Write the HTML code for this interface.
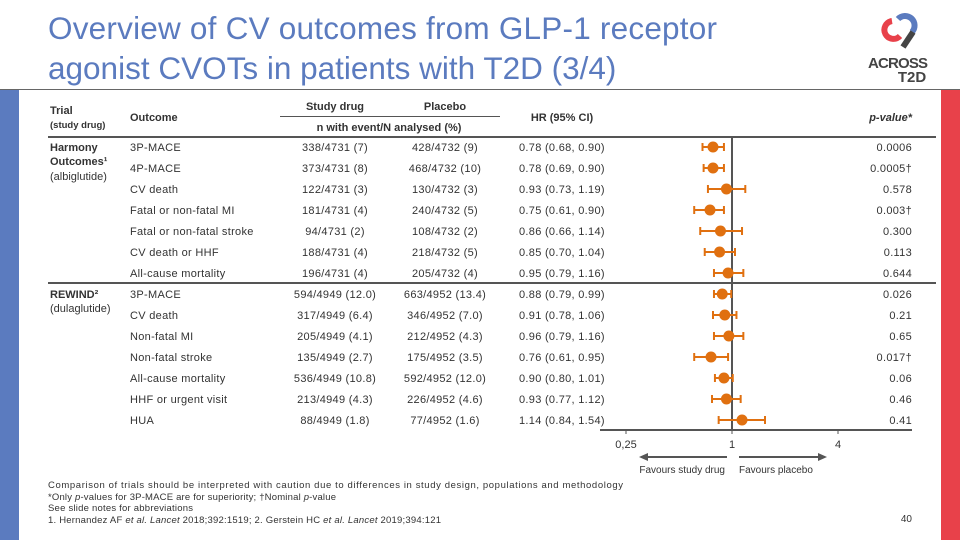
<!DOCTYPE html>
<html><head><meta charset="utf-8"><style>
body{margin:0;background:#fff;}
svg{display:block;font-family:"Liberation Sans",sans-serif;}
#rows text{letter-spacing:0.3px;}
</style></head><body>
<svg id="s" width="960" height="540" viewBox="0 0 960 540">
<text x="48" y="39" font-size="31.5" fill="#5b7bbf" textLength="669">Overview of CV outcomes from GLP-1 receptor</text>
<text x="48" y="79" font-size="31.5" fill="#5b7bbf">agonist CVOTs in patients with T2D (3/4)</text>
<g>
<path d="M892 21 a9 9 0 1 0 8 15" fill="none" stroke="#e8414a" stroke-width="6"/>
<path d="M898 19 a9 9 0 1 1 14 13" fill="none" stroke="#5b7bbf" stroke-width="6"/>
<path d="M913 32 L903 47" stroke="#444" stroke-width="6"/>
<text x="898" y="68" font-size="15" font-weight="bold" fill="#444" text-anchor="middle" textLength="60">ACROSS</text>
<text x="912" y="82" font-size="15" font-weight="bold" fill="#444" text-anchor="middle">T2D</text>
</g>
<line x1="0" y1="89.5" x2="960" y2="89.5" stroke="#666" stroke-width="1"/>
<rect x="0" y="90" width="19" height="450" fill="#5b7bbf"/>
<rect x="941" y="90" width="19" height="450" fill="#e8414a"/>
<g font-size="11" fill="#333">
<text x="50" y="114" font-weight="bold">Trial</text>
<text x="50" y="128" font-size="9.5" font-weight="bold">(study drug)</text>
<text x="130" y="121" font-weight="bold">Outcome</text>
<text x="335" y="110" text-anchor="middle" font-weight="bold">Study drug</text>
<text x="445" y="110" text-anchor="middle" font-weight="bold">Placebo</text>
<line x1="280" y1="116.5" x2="500" y2="116.5" stroke="#555"/>
<text x="389" y="131" text-anchor="middle" font-weight="bold">n with event/N analysed (%)</text>
<text x="562" y="121" text-anchor="middle" font-weight="bold">HR (95% CI)</text>
<text x="912" y="121" text-anchor="end" font-weight="bold" font-style="italic">p-value*</text>
<text x="50" y="151" font-weight="bold">Harmony</text>
<text x="50" y="165" font-weight="bold">Outcomes¹</text>
<text x="50" y="180">(albiglutide)</text>
<text x="50" y="298" font-weight="bold">REWIND²</text>
<text x="50" y="312">(dulaglutide)</text>
</g>
<line x1="48" y1="137" x2="936" y2="137" stroke="#555" stroke-width="2"/>
<line x1="48" y1="283" x2="936" y2="283" stroke="#555" stroke-width="2"/>
<g id="rows"></g>
<g id="plot"></g>
<g font-size="9.5" fill="#333">
<text x="48" y="488" textLength="575">Comparison of trials should be interpreted with caution due to differences in study design, populations and methodology</text>
<text x="48" y="500" textLength="288">*Only <tspan font-style="italic">p</tspan>-values for 3P-MACE are for superiority; †Nominal <tspan font-style="italic">p</tspan>-value</text>
<text x="48" y="511" textLength="145">See slide notes for abbreviations</text>
<text x="48" y="523" textLength="393">1. Hernandez AF <tspan font-style="italic">et al. Lancet</tspan> 2018;392:1519; 2. Gerstein HC <tspan font-style="italic">et al. Lancet</tspan> 2019;394:121</text>
<text x="912" y="522" font-size="10" text-anchor="end">40</text>
</g>
</svg>
<script>
const outcomes=["3P-MACE","4P-MACE","CV death","Fatal or non-fatal MI","Fatal or non-fatal stroke","CV death or HHF","All-cause mortality","3P-MACE","CV death","Non-fatal MI","Non-fatal stroke","All-cause mortality","HHF or urgent visit","HUA"];
const drugN=["338/4731 (7)","373/4731 (8)","122/4731 (3)","181/4731 (4)","94/4731 (2)","188/4731 (4)","196/4731 (4)","594/4949 (12.0)","317/4949 (6.4)","205/4949 (4.1)","135/4949 (2.7)","536/4949 (10.8)","213/4949 (4.3)","88/4949 (1.8)"];
const placeboN=["428/4732 (9)","468/4732 (10)","130/4732 (3)","240/4732 (5)","108/4732 (2)","218/4732 (5)","205/4732 (4)","663/4952 (13.4)","346/4952 (7.0)","212/4952 (4.3)","175/4952 (3.5)","592/4952 (12.0)","226/4952 (4.6)","77/4952 (1.6)"];
const hr=[0.78,0.78,0.93,0.75,0.86,0.85,0.95,0.88,0.91,0.96,0.76,0.90,0.93,1.14];
const lo=[0.68,0.69,0.73,0.61,0.66,0.70,0.79,0.79,0.78,0.79,0.61,0.80,0.77,0.84];
const hi=[0.90,0.90,1.19,0.90,1.14,1.04,1.16,0.99,1.06,1.16,0.95,1.01,1.12,1.54];
const pvals=["0.0006","0.0005†","0.578","0.003†","0.300","0.113","0.644","0.026","0.21","0.65","0.017†","0.06","0.46","0.41"];
const ticks=[0.25,1,4];
const tickLabels=["0,25","1","4"];
const NS="http://www.w3.org/2000/svg";
const xs=v=>732+53*Math.log2(v);
const ys=i=>147+21*i;
function mk(p,tag,a,txt){const e=document.createElementNS(NS,tag);for(const k in a)e.setAttribute(k,a[k]);if(txt!=null)e.textContent=txt;p.appendChild(e);return e;}
const rows=document.getElementById('rows'),plot=document.getElementById('plot');
const fmt=v=>v.toFixed(2);
outcomes.forEach((o,i)=>{
 const y=ys(i)+4;
 let t=mk(rows,'text',{x:130,y:y,'font-size':11,fill:'#333'},o);
 
 
 t=mk(rows,'text',{x:335,y:y,'font-size':11,fill:'#333','text-anchor':'middle'},drugN[i]);
 
 
 t=mk(rows,'text',{x:445,y:y,'font-size':11,fill:'#333','text-anchor':'middle'},placeboN[i]);
 
 
 t=mk(rows,'text',{x:519,y:y,'font-size':11,fill:'#333'},fmt(hr[i])+" ("+fmt(lo[i])+", "+fmt(hi[i])+")");
 
 
 t=mk(rows,'text',{x:912,y:y,'font-size':11,fill:'#333','text-anchor':'end'},pvals[i]);
 
 
});
let a=mk(plot,'line',{x1:xs(1),y1:137,x2:xs(1),y2:431,stroke:'#555','stroke-width':2});


a=mk(plot,'line',{x1:600,y1:430,x2:912,y2:430,stroke:'#555','stroke-width':2});


ticks.forEach((v,k)=>{
 let l=mk(plot,'line',{x1:xs(v),y1:430,x2:xs(v),y2:434,stroke:'#555'});
 
 
 let t=mk(plot,'text',{x:xs(v),y:448,'font-size':11,fill:'#333','text-anchor':'middle'},tickLabels[k]);
 
 
});
hr.forEach((v,i)=>{
 const y=ys(i),c='#e07010';
 let g=mk(plot,'g',{});
 
 
 mk(g,'line',{x1:xs(lo[i]),y1:y,x2:xs(hi[i]),y2:y,stroke:c,'stroke-width':2});
 mk(g,'line',{x1:xs(lo[i]),y1:y-4,x2:xs(lo[i]),y2:y+4,stroke:c,'stroke-width':2});
 mk(g,'line',{x1:xs(hi[i]),y1:y-4,x2:xs(hi[i]),y2:y+4,stroke:c,'stroke-width':2});
 mk(g,'circle',{cx:xs(v),cy:y,r:5.5,fill:c});
});
let g=mk(plot,'g',{});


mk(g,'line',{x1:727,y1:457,x2:645,y2:457,stroke:'#555','stroke-width':2});
mk(g,'path',{d:'M639 457 L648 453 L648 461Z',fill:'#555'});
mk(g,'line',{x1:739,y1:457,x2:821,y2:457,stroke:'#555','stroke-width':2});
mk(g,'path',{d:'M827 457 L818 453 L818 461Z',fill:'#555'});
let t=mk(plot,'text',{x:725,y:473,'font-size':10,fill:'#333','text-anchor':'end'},'Favours study drug');


t=mk(plot,'text',{x:739,y:473,'font-size':10,fill:'#333'},'Favours placebo');


</script>
</body></html>
